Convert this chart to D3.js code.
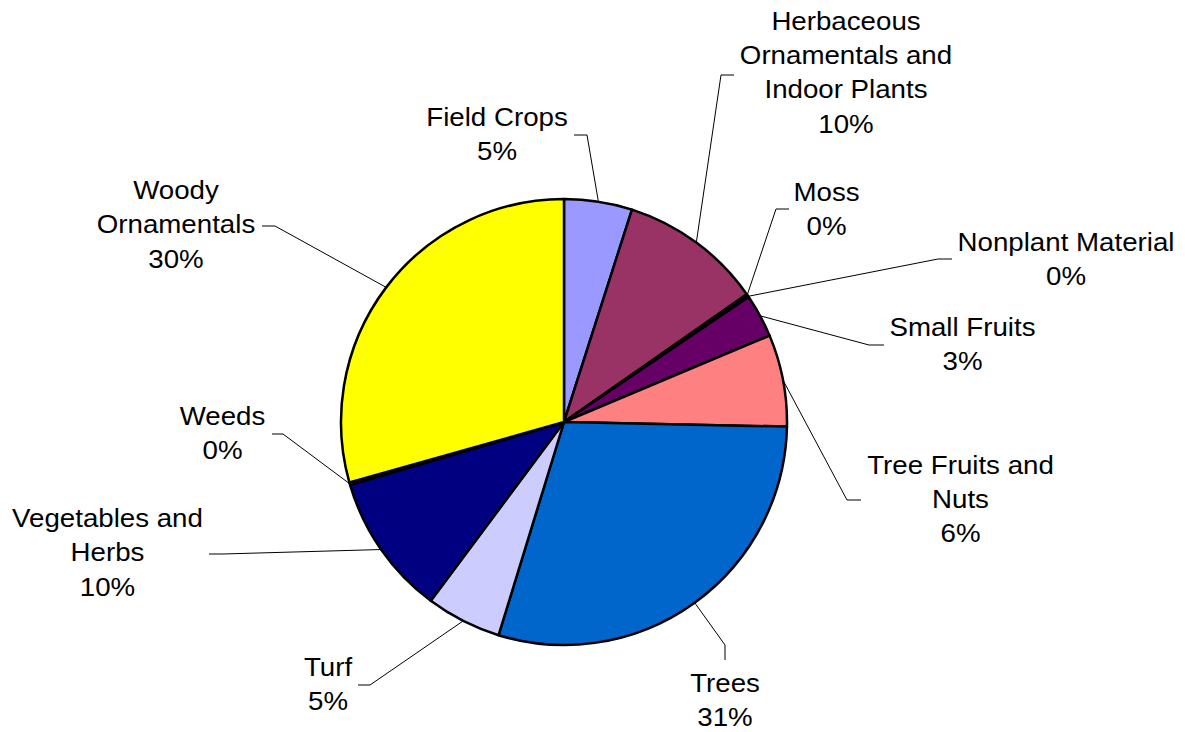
<!DOCTYPE html>
<html>
<head>
<meta charset="utf-8">
<script src="https://cdn.jsdelivr.net/npm/d3@7"></script>
<style>
  body { margin: 0; background: #fff; }
  svg { display: block; }
</style>
</head>
<body>
<script>
// slice names, shares (in percent) and printed labels
var categories = ["Field Crops", "Herbaceous Ornamentals and Indoor Plants", "Moss", "Nonplant Material",
  "Small Fruits", "Tree Fruits and Nuts", "Trees", "Turf", "Vegetables and Herbs", "Weeds", "Woody Ornamentals"];
var shares = [4.93, 10.36, 0.12, 0.12, 3.14, 6.66, 29.41, 5.45, 10.24, 0.2, 29.37];
var pctLabels = ["5%", "10%", "0%", "0%", "3%", "6%", "31%", "5%", "10%", "0%", "30%"];
var labelLines = [
  ["Field Crops"],
  ["Herbaceous", "Ornamentals and", "Indoor Plants"],
  ["Moss"],
  ["Nonplant Material"],
  ["Small Fruits"],
  ["Tree Fruits and", "Nuts"],
  ["Trees"],
  ["Turf"],
  ["Vegetables and", "Herbs"],
  ["Weeds"],
  ["Woody", "Ornamentals"]
];

var colors = ["#9999FF", "#993366", "#FFFFCC", "#CCFFFF", "#660066", "#FF8080",
  "#0066CC", "#CCCCFF", "#000080", "#FF00FF", "#FFFF00"];

// where each label sits: text centre x, first baseline, leader start and elbow
var labelPos = [
  {x: 497, y: 126, sx: 574, sy: 135, ex: 587, ey: 135},
  {x: 846, y: 29.5, sx: 734, sy: 75, ex: 721, ey: 75},
  {x: 826.5, y: 201, sx: 789, sy: 209, ex: 776, ey: 209},
  {x: 1066, y: 251, sx: 952, sy: 259, ex: 938, ey: 259},
  {x: 962.5, y: 336, sx: 884, sy: 345, ex: 869, ey: 345},
  {x: 960.5, y: 473.5, sx: 861, sy: 500, ex: 847, ey: 500},
  {x: 725, y: 692, sx: 725, sy: 660, ex: 725, ey: 645},
  {x: 328, y: 676, sx: 358, sy: 685, ex: 370, ey: 685},
  {x: 107.5, y: 527, sx: 209, sy: 554, ex: 223, ey: 554},
  {x: 222.5, y: 425, sx: 272, sy: 434, ex: 283, ey: 434},
  {x: 176, y: 199, sx: 262, sy: 226, ex: 275, ey: 226}
];

var width = 1185, height = 732;
var cx = 564, cy = 422, radius = 223;
var lineGap = 34.5;

var svg = d3.select("body").append("svg")
    .attr("width", width)
    .attr("height", height);

var data = categories.map(function(c, i) {
  return {name: c, value: shares[i], color: colors[i], pct: pctLabels[i], lines: labelLines[i], pos: labelPos[i]};
});

var pie = d3.pie()
    .sort(null)
    .value(function(d) { return d.value; });

var arc = d3.arc()
    .innerRadius(0)
    .outerRadius(radius);

var arcs = pie(data);

var g = svg.append("g")
    .attr("transform", "translate(" + cx + "," + cy + ")");

// slices
g.selectAll("path.slice")
    .data(arcs)
  .enter().append("path")
    .attr("class", "slice")
    .attr("d", arc)
    .attr("fill", function(d) { return d.data.color; })
    .attr("stroke", "#000")
    .attr("stroke-width", 2.5)
    .attr("stroke-linejoin", "round");

// leader lines, ending on the rim at the middle of each slice
svg.selectAll("polyline.leader")
    .data(arcs)
  .enter().append("polyline")
    .attr("class", "leader")
    .attr("fill", "none")
    .attr("stroke", "#000")
    .attr("stroke-width", 1)
    .attr("points", function(d) {
      var p = d.data.pos;
      var mid = (d.startAngle + d.endAngle) / 2;
      var px = cx + radius * Math.sin(mid), py = cy - radius * Math.cos(mid);
      return [[p.sx, p.sy], [p.ex, p.ey], [px, py]].join(" ");
    });

// labels
var labels = svg.selectAll("text.lbl")
    .data(data)
  .enter().append("text")
    .attr("class", "lbl")
    .attr("transform", function(d) { return "translate(" + d.pos.x + "," + d.pos.y + ") scale(1.065,1)"; })
    .attr("text-anchor", "middle")
    .style("font-family", "'Liberation Sans', Arial, sans-serif")
    .style("font-size", "26px")
    .attr("fill", "#000");

labels.selectAll("tspan")
    .data(function(d) { return d.lines.concat([d.pct]); })
  .enter().append("tspan")
    .attr("x", 0)
    .attr("y", function(t, i) { return i * lineGap; })
    .text(function(t) { return t; });
</script>
</body>
</html>
